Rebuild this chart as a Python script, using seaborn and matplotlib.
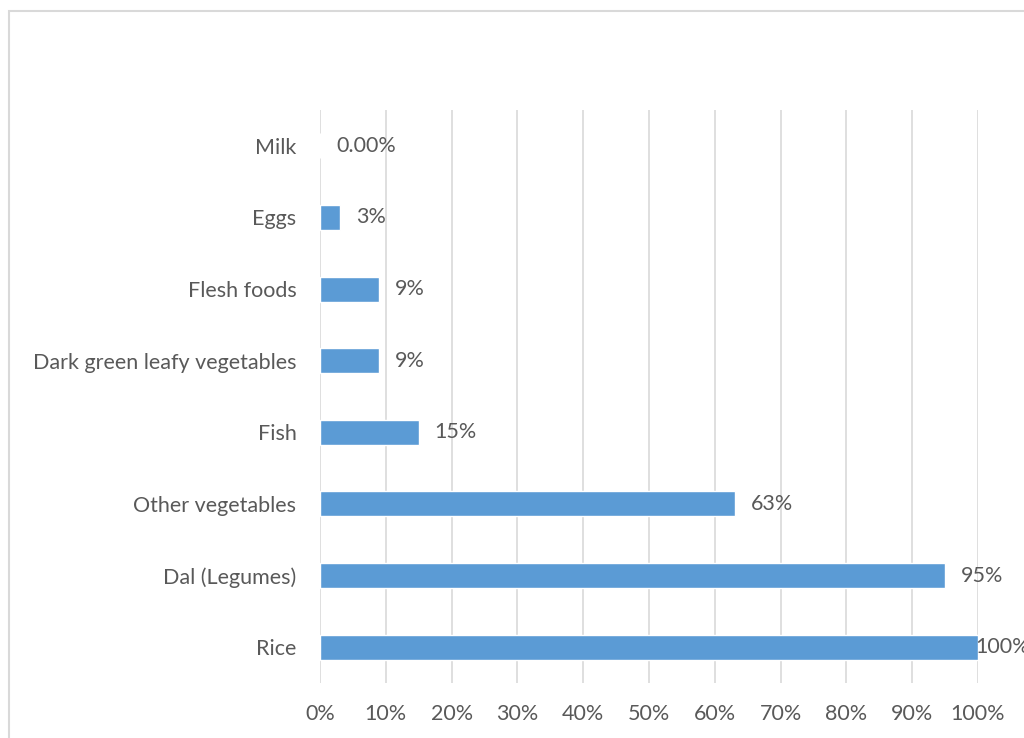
import numpy as np
import pandas as pd
import seaborn as sns
import matplotlib.pyplot as plt
from matplotlib.patches import Rectangle

# dados
alimentos = ["Milk", "Eggs", "Flesh foods", "Dark green leafy vegetables",
             "Fish", "Other vegetables", "Dal (Legumes)", "Rice"]
valores = [0.0, 3, 9, 9, 15, 63, 95, 100]
rotulos = ["0.00%", "3%", "9%", "9%", "15%", "63%", "95%", "100%"]
ticks_x = [0, 10, 20, 30, 40, 50, 60, 70, 80, 90, 100]

df = pd.DataFrame({"alimento": alimentos, "valor": valores})

sns.set_style("white")
plt.rcParams["font.family"] = ["Lato", "DejaVu Sans"]

cinza = "#595959"
tam = 15.5
fig = plt.figure(figsize=(10.24, 7.38), dpi=100)
ax = fig.add_axes([0.3125, 0.0745, 0.6426, 0.7765])

# moldura do gráfico (cortada à direita e embaixo)
fig.patches.append(Rectangle((9 / 1024, -0.1), 1.2, 1 - 11 / 738 + 0.1,
                             transform=fig.transFigure, fill=False,
                             edgecolor="#D9D9D9", linewidth=1.5))

sns.barplot(data=df, x="valor", y="alimento", orient="h", color="#5B9BD5",
            width=0.35, saturation=1, ax=ax, zorder=3)

for i, (v, r) in enumerate(zip(valores, rotulos)):
    dx = -3 if v >= 100 else 16
    ax.annotate(r, xy=(v, i), xytext=(dx, 0), textcoords="offset pixels",
                ha="left", va="center", fontsize=tam, color=cinza, zorder=4)

ax.set_xlim(0, 100)
ax.set_ylim(7.5, -0.5)
ax.set_xticks(ticks_x)
ax.set_xticklabels([f"{t}%" for t in ticks_x])
ax.xaxis.grid(True, color="#D9D9D9", linewidth=1.2, zorder=0)
ax.yaxis.grid(False)
for s in ax.spines.values():
    s.set_visible(False)
ax.tick_params(axis="x", length=0, pad=15, labelsize=tam, labelcolor=cinza)
ax.tick_params(axis="y", length=0, pad=17, labelsize=tam, labelcolor=cinza)
ax.set_xlabel("")
ax.set_ylabel("")

fig.savefig("out.png", dpi=100)
